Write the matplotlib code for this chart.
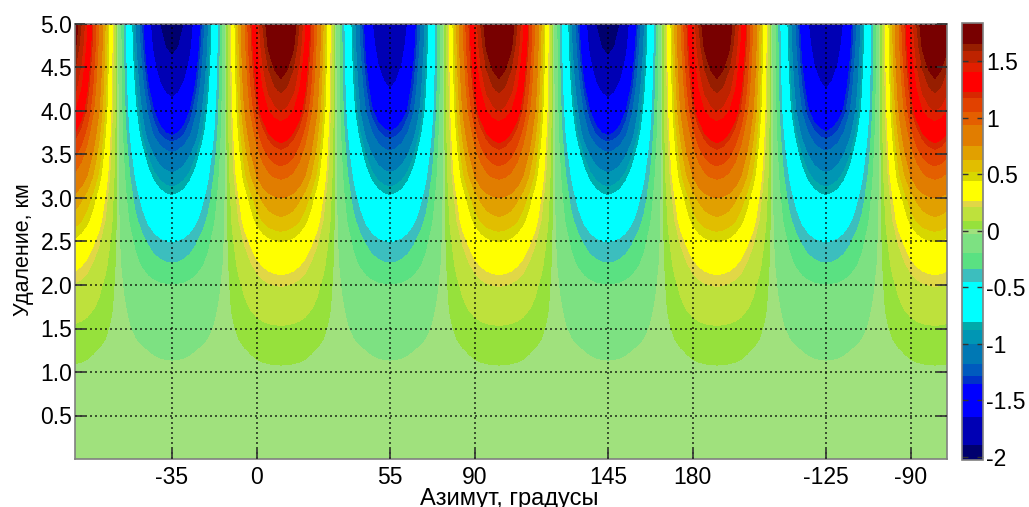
import numpy as np
import matplotlib
matplotlib.use('Agg')
import matplotlib.pyplot as plt
from matplotlib.colors import ListedColormap, BoundaryNorm
from matplotlib.cm import ScalarMappable

plt.rcParams['font.family'] = ['Liberation Sans', 'DejaVu Sans']

WIDTH = 1029
HEIGHT = 507

# distance rows, km
distances = [0.0, 0.25, 0.5, 0.75, 1.0, 1.25, 1.5, 1.75, 2.0, 2.25, 2.5,
             2.75, 3.0, 3.25, 3.5, 3.75, 4.0, 4.25, 4.5, 4.75, 5.0]

# lobe crest against distance
crest_pos = [0.0, 0.002, 0.004, 0.008, 0.013, 0.035, 0.08, 0.15, 0.215, 0.32, 0.44,
             0.61, 0.75, 0.97, 1.14, 1.31, 1.49, 1.61, 1.70, 1.78, 1.83]
crest_neg_deep = [0.0, -0.002, -0.005, -0.01, -0.02, -0.04, -0.08, -0.13, -0.20, -0.34, -0.46,
                  -0.63, -0.79, -0.97, -1.16, -1.39, -1.56, -1.71, -1.84, -1.95, -2.02]
crest_neg_shallow = [0.0, -0.002, -0.005, -0.01, -0.02, -0.04, -0.08, -0.13, -0.20, -0.34, -0.46,
                     -0.63, -0.79, -0.97, -1.15, -1.35, -1.54, -1.65, -1.74, -1.82, -1.88]

# lobes along azimuth: centre in degrees and which crest it has
lobe_centers = [-80, -35, 10, 55, 100, 145, 190, 235, 280]
lobe_crests = [crest_pos, crest_neg_deep, crest_pos, crest_neg_shallow, crest_pos,
               crest_neg_deep, crest_pos, crest_neg_shallow, crest_pos]

# share of the crest kept at 2.5 degree steps away from the lobe centre
lobe_offsets = [-20.0, -17.5, -15.0, -12.5, -10.0, -7.5, -5.0, -2.5, 0.0,
                2.5, 5.0, 7.5, 10.0, 12.5, 15.0, 17.5, 20.0, 22.5]
lobe_shape = [0.17, 0.34, 0.50, 0.64, 0.77, 0.87, 0.94, 0.98, 1.00,
              0.98, 0.94, 0.87, 0.77, 0.64, 0.50, 0.34, 0.17, 0.00]

# colorbar bands, bottom to top
levels = [-2.03, -1.90, -1.65, -1.36, -1.29, -1.18, -1.0, -0.88, -0.81, -0.45, -0.34,
          -0.2, -0.03, 0.02, 0.09, 0.21, 0.265, 0.44, 0.52, 0.63, 0.75, 0.94, 1.05,
          1.18, 1.23, 1.41, 1.49, 1.59, 1.655, 1.84]
band_colors = ['#00006e', '#0000b4', '#0000ff', '#0032c8', '#005abe', '#0078b4', '#0096b4',
               '#00aaaa', '#00ffff', '#3cbebe', '#5ae182', '#7de182', '#a0e17d', '#96e13c',
               '#bee13c', '#e1d746', '#ffff00', '#d7d700', '#e1be00', '#e1a000', '#e17d00',
               '#e45f00', '#e14100', '#d72800', '#ff0000', '#e11e00', '#be2300', '#961e00',
               '#780000']

cbar_ticks = [-2, -1.5, -1, -0.5, 0, 0.5, 1, 1.5]
cbar_labels = ['-2', '-1.5', '-1', '-0.5', '0', '0.5', '1', '1.5']
x_ticks = [-35, 0, 55, 90, 145, 180, 235, 270]
x_labels = ['-35', '0', '55', '90', '145', '180', '-125', '-90']
y_ticks = [0.5, 1.0, 1.5, 2.0, 2.5, 3.0, 3.5, 4.0, 4.5, 5.0]


def build_field():
    azimuths = []
    columns = []
    for center, crest in zip(lobe_centers, lobe_crests):
        for offset, share in zip(lobe_offsets, lobe_shape):
            azimuths.append(center + offset)
            columns.append(np.array(crest) * share)
    return np.array(azimuths), np.array(columns).T


def px_rect(left, top, right, bottom):
    return [left / WIDTH, 1 - bottom / HEIGHT, (right - left) / WIDTH, (bottom - top) / HEIGHT]


def main():
    azimuths, field = build_field()
    cmap = ListedColormap(band_colors)
    norm = BoundaryNorm(levels, cmap.N)

    fig = plt.figure(figsize=(WIDTH / 100, HEIGHT / 100), dpi=100)
    ax = fig.add_axes(px_rect(75, 24, 947, 459))
    ax.contourf(azimuths, distances, field, levels=levels, cmap=cmap, norm=norm, extend='both')
    ax.set_xlim(-75, 285)
    ax.set_ylim(0, 5)
    ax.set_xticks(x_ticks)
    ax.set_xticklabels(x_labels, fontsize=16.5)
    ax.set_yticks(y_ticks)
    ax.set_yticklabels(['{:.1f}'.format(t) for t in y_ticks], fontsize=16.5)
    ax.tick_params(direction='in', length=7, width=1.2, color='#333333', right=True)
    ax.tick_params(axis='x', pad=5)
    ax.tick_params(axis='y', pad=2)
    ax.grid(True, color='black', linestyle=(0, (1.2, 1.8)), linewidth=1.2, alpha=0.75)
    ax.set_axisbelow(False)
    for spine in ax.spines.values():
        spine.set_color('#808080')
        spine.set_linewidth(1.2)

    cax = fig.add_axes(px_rect(962, 23, 983, 460))
    cbar = fig.colorbar(ScalarMappable(norm=norm, cmap=cmap), cax=cax, spacing='proportional')
    cbar.set_ticks(cbar_ticks)
    cbar.set_ticklabels(cbar_labels, fontsize=16.5)
    cbar.ax.minorticks_off()
    cbar.ax.tick_params(direction='in', length=4, width=1, color='#333333', left=True, right=True, pad=2)
    cbar.outline.set_edgecolor('#808080')
    cbar.outline.set_linewidth(1.2)
    cbar.dividers.set_visible(False)

    # the reference clips this label at the bottom edge too
    fig.text(509 / WIDTH, 1 - 505.5 / HEIGHT, 'Азимут, градусы', fontsize=17, ha='center', va='baseline')
    fig.text(23 / WIDTH, 1 - 250 / HEIGHT, 'Удаление, км', fontsize=15.5, rotation=90, ha='center', va='center')

    fig.savefig('out.png', dpi=100)


if __name__ == '__main__':
    main()
